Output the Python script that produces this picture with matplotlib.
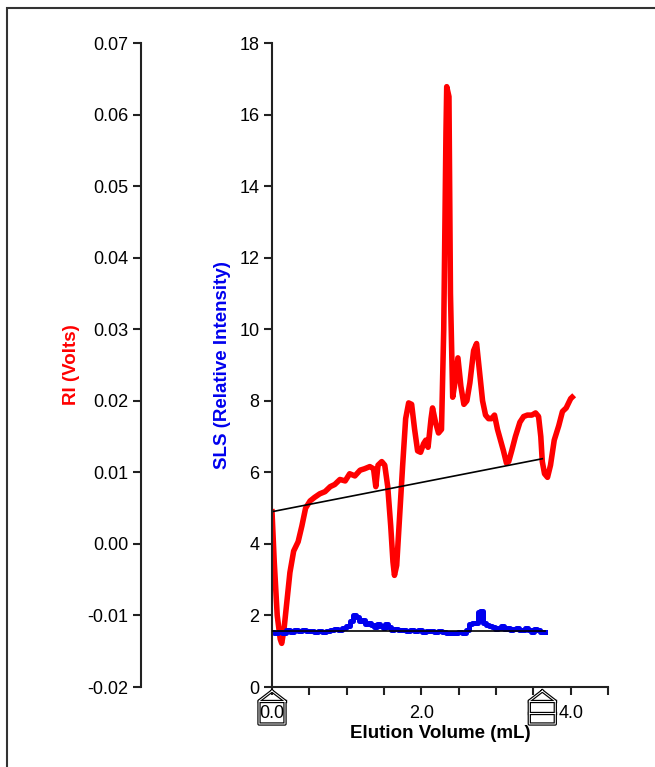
import matplotlib
matplotlib.use("Agg")
import matplotlib.pyplot as plt
from matplotlib.lines import Line2D
from matplotlib.patches import Rectangle
from matplotlib.transforms import IdentityTransform
import numpy as np

plt.rcParams["font.family"] = ["Liberation Sans", "DejaVu Sans"]

# RI detector trace (Volts) vs elution volume (mL)
ri_vol = [
    0.00, 0.03, 0.07, 0.11, 0.13, 0.16, 0.20, 0.24, 0.29, 0.35,
    0.40, 0.45, 0.51, 0.57, 0.64, 0.71, 0.78, 0.84, 0.91, 0.98,
    1.04, 1.11, 1.18, 1.24, 1.31, 1.36, 1.39, 1.42, 1.47, 1.51,
    1.55, 1.59, 1.62, 1.64, 1.67, 1.71, 1.75, 1.79, 1.83, 1.87,
    1.91, 1.95, 1.99, 2.03, 2.06, 2.09, 2.13, 2.15, 2.19, 2.23,
    2.27, 2.30, 2.33, 2.34, 2.37, 2.39, 2.42, 2.45, 2.49, 2.53,
    2.57, 2.61, 2.65, 2.70, 2.74, 2.78, 2.82, 2.86, 2.90, 2.94,
    2.98, 3.02, 3.06, 3.10, 3.14, 3.17, 3.21, 3.26, 3.32, 3.37,
    3.42, 3.48, 3.53, 3.57, 3.60, 3.62, 3.65, 3.69, 3.73, 3.78,
    3.84, 3.89, 3.94, 4.00, 4.02,
]
ri_volts = [
    0.0045, -0.0025, -0.0100, -0.0133, -0.0139, -0.0120, -0.0080, -0.0040, -0.0010, 0.0003,
    0.0025, 0.0050, 0.0060, 0.0065, 0.0070, 0.0073, 0.0080, 0.0083, 0.0090, 0.0088,
    0.0098, 0.0095, 0.0103, 0.0105, 0.0108, 0.0105, 0.0080, 0.0110, 0.0115, 0.0110,
    0.0080, 0.0025, -0.0025, -0.0044, -0.0030, 0.0040, 0.0110, 0.0175, 0.0197, 0.0195,
    0.0160, 0.0130, 0.0128, 0.0140, 0.0145, 0.0135, 0.0175, 0.0190, 0.0170, 0.0155,
    0.0160, 0.0300, 0.0575, 0.0639, 0.0625, 0.0350, 0.0205, 0.0225, 0.0260, 0.0220,
    0.0195, 0.0200, 0.0225, 0.0270, 0.0280, 0.0240, 0.0200, 0.0180, 0.0175, 0.0175,
    0.0180, 0.0160, 0.0145, 0.0130, 0.0113, 0.0115, 0.0130, 0.0150, 0.0170, 0.0178,
    0.0180, 0.0180, 0.0183, 0.0178, 0.0150, 0.0115, 0.0098, 0.0093, 0.0110, 0.0145,
    0.0165, 0.0185, 0.0190, 0.0203, 0.0205,
]

# SLS detector trace (relative intensity)
sls_vol = [
    0.00, 0.05, 0.11, 0.16, 0.21, 0.27, 0.32, 0.37, 0.43, 0.48,
    0.53, 0.59, 0.64, 0.70, 0.75, 0.80, 0.86, 0.91, 0.96, 1.02,
    1.06, 1.10, 1.14, 1.18, 1.22, 1.26, 1.30, 1.34, 1.38, 1.42,
    1.46, 1.50, 1.54, 1.58, 1.62, 1.66, 1.71, 1.76, 1.82, 1.87,
    1.93, 1.98, 2.03, 2.09, 2.14, 2.19, 2.25, 2.30, 2.35, 2.41,
    2.46, 2.51, 2.57, 2.62, 2.66, 2.70, 2.74, 2.77, 2.81, 2.85,
    2.89, 2.93, 2.97, 3.01, 3.05, 3.09, 3.13, 3.17, 3.21, 3.25,
    3.29, 3.33, 3.37, 3.41, 3.45, 3.49, 3.53, 3.57, 3.61, 3.65,
]
sls_int = [
    1.55, 1.52, 1.55, 1.50, 1.58, 1.55, 1.60, 1.57, 1.60, 1.56,
    1.57, 1.54, 1.57, 1.55, 1.56, 1.60, 1.62, 1.60, 1.65, 1.70,
    1.85, 2.00, 1.95, 1.85, 1.88, 1.75, 1.78, 1.72, 1.68, 1.75,
    1.70, 1.65, 1.75, 1.68, 1.60, 1.62, 1.58, 1.60, 1.57, 1.60,
    1.56, 1.58, 1.55, 1.57, 1.56, 1.53, 1.56, 1.54, 1.50, 1.52,
    1.50, 1.53, 1.52, 1.60, 1.75, 1.78, 1.80, 2.10, 2.12, 1.80,
    1.72, 1.70, 1.68, 1.62, 1.65, 1.70, 1.62, 1.65, 1.60, 1.62,
    1.65, 1.60, 1.58, 1.65, 1.60, 1.55, 1.62, 1.58, 1.55, 1.55,
]

# baselines (start, end)
ri_base_vol = [0.00, 3.62]
ri_base_volts = [0.0045, 0.0119]
sls_base_vol = [0.00, 3.65]
sls_base_int = [1.56, 1.56]

# integration limit markers
limit_vol = [0.00, 3.62]

x_ticks = [0.0, 2.0, 4.0]
sls_ticks = [0, 2, 4, 6, 8, 10, 12, 14, 16, 18]
ri_ticks = [-0.02, -0.01, 0.00, 0.01, 0.02, 0.03, 0.04, 0.05, 0.06, 0.07]

W, H = 655, 767
fig = plt.figure(figsize=(W / 100, H / 100), dpi=100)
ax = fig.add_axes([272 / W, 80 / H, 336 / W, 644 / H])
ax2 = ax.twinx()

spine_col = "#222222"
tick_kw = dict(direction="out", length=6, width=1.5, color=spine_col, labelsize=13)

# RI on the twin axis, drawn underneath
ax2.plot(ri_vol, ri_volts, color="red", lw=4.0, solid_joinstyle="round", zorder=2)
ax2.plot(ri_base_vol, ri_base_volts, color="black", lw=1.2, zorder=3)
ax2.set_ylim(-0.02, 0.07)
ax2.set_yticks(ri_ticks)
ax2.set_yticklabels([f"{t:.2f}" for t in ri_ticks])
ax2.yaxis.set_ticks_position("left")
ax2.yaxis.set_label_position("left")
ax2.spines["left"].set_position(("axes", -0.39))
ax2.spines["left"].set_linewidth(1.5)
ax2.spines["left"].set_color(spine_col)
for s in ["right", "top", "bottom"]:
    ax2.spines[s].set_visible(False)
ax2.tick_params(axis="y", pad=3, **tick_kw)
ax2.set_ylabel("RI (Volts)", color="red", fontsize=13.5, fontweight="bold")
ax2.yaxis.set_label_coords(-0.571, 0.5)

# SLS on the main axis
ax.set_zorder(ax2.get_zorder() + 1)
ax.patch.set_visible(False)
ax.plot(sls_vol, sls_int, color="#0000ee", lw=3.6, drawstyle="steps-mid", zorder=2)
ax.plot(sls_base_vol, sls_base_int, color="black", lw=1.2, zorder=3)
ax.set_xlim(0, 4.5)
ax.set_ylim(0, 18)
ax.set_xticks(x_ticks)
ax.set_xticklabels([f"{t:.1f}" for t in x_ticks])
ax.set_xticks(np.arange(0, 4.51, 0.5), minor=True)
ax.set_yticks(sls_ticks)
for s in ["right", "top"]:
    ax.spines[s].set_visible(False)
for s in ["left", "bottom"]:
    ax.spines[s].set_linewidth(1.5)
    ax.spines[s].set_color(spine_col)
ax.tick_params(axis="y", pad=3, **tick_kw)
ax.tick_params(axis="x", pad=7, **tick_kw)
ax.tick_params(axis="x", which="minor", direction="out", length=6, width=1.5, color=spine_col)
ax.set_ylabel("SLS (Relative Intensity)", color="#0000ee", fontsize=13.5, fontweight="bold")
ax.yaxis.set_label_coords(-0.122, 0.5)
ax.set_xlabel("Elution Volume (mL)", fontsize=13.5, fontweight="bold", labelpad=2)

# house-shaped integration limit markers under the x axis
for i, v in enumerate(limit_vol):
    px, py = ax.transData.transform((v, 0))
    xs = [px, px + 13, px + 13, px - 13, px - 13, px]
    ys = [py - 4, py - 14, py - 37, py - 37, py - 14, py - 4]
    for lw, col in [(2.4, "black"), (0.7, "white")]:
        fig.add_artist(Line2D(xs, ys, lw=lw, color=col, transform=IdentityTransform()))
        fig.add_artist(Line2D([px - 13, px + 13], [py - 14, py - 14], lw=lw, color=col,
                              transform=IdentityTransform()))
        if i == 1:
            fig.add_artist(Line2D([px - 13, px + 13], [py - 26, py - 26], lw=lw, color=col,
                                  transform=IdentityTransform()))

# frame around the figure
fig.add_artist(Rectangle((7 / W, -0.1), 1.2, 1.1 - 8 / H, transform=fig.transFigure,
                         fill=False, lw=1.5, edgecolor="#333333"))

fig.savefig("out.png", dpi=100)
